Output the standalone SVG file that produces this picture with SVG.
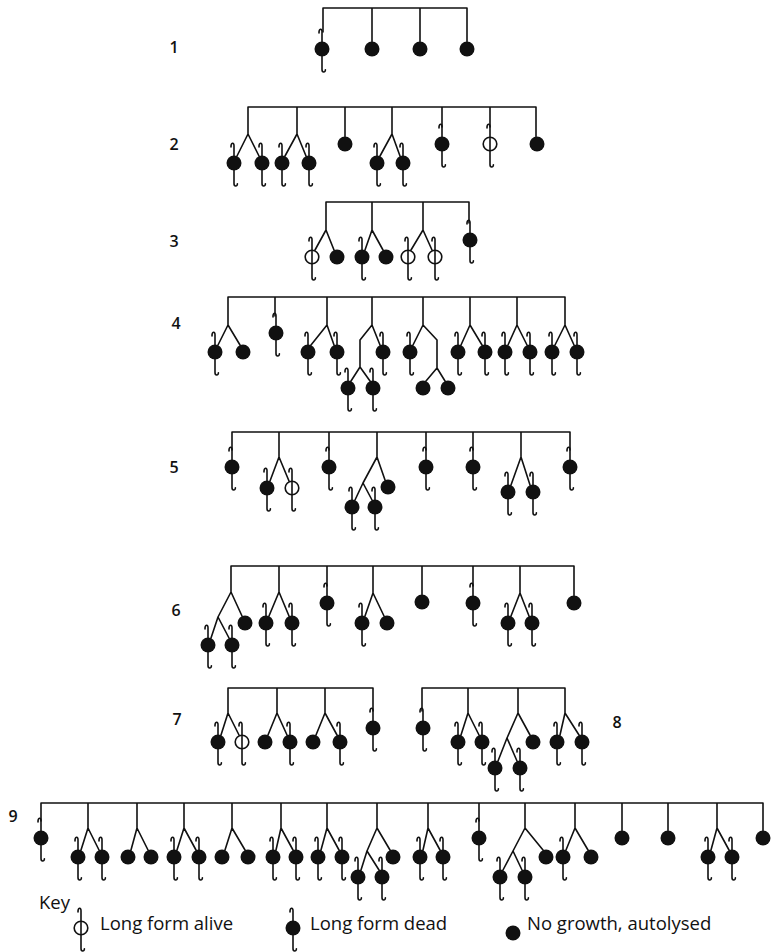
<svg xmlns="http://www.w3.org/2000/svg" xmlns:xlink="http://www.w3.org/1999/xlink" width="772" height="952" viewBox="0 0 772 952">
<style>
.c{fill:none;stroke:#111;stroke-width:1.6;stroke-linecap:round;stroke-linejoin:round}
.lab{font-family:"Open Sans","Liberation Sans",sans-serif;font-weight:600;font-size:16px;fill:#111;text-anchor:middle}
.key{font-family:"Open Sans","Liberation Sans",sans-serif;font-size:18.5px;fill:#111}
</style>
<defs>
<g id="N"><circle r="7.5" fill="#111"/></g>
<g id="D"><circle r="7.5" fill="#111"/><path class="c" d="M-3,-16 C-3.2,-20.5 0.3,-21 0,-17 L0,-7 M0,7 L0,20.5 C0,23.8 3.4,23.8 3.4,20.8"/></g>
<g id="A"><circle r="6.8" fill="#fff" stroke="#111" stroke-width="1.6"/><path class="c" d="M-3,-16 C-3.2,-20.5 0.3,-21 0,-17 L0,20.5 C0,23.8 3.4,23.8 3.4,20.8"/></g>
</defs>
<rect width="772" height="952" fill="#fff"/>
<g id="labels">
<text class="lab" x="174" y="53">1</text>
<text class="lab" x="174" y="150">2</text>
<text class="lab" x="174" y="247">3</text>
<text class="lab" x="176" y="329">4</text>
<text class="lab" x="174" y="473">5</text>
<text class="lab" x="176" y="616">6</text>
<text class="lab" x="177" y="725">7</text>
<text class="lab" x="617" y="728">8</text>
<text class="lab" x="13" y="822">9</text>
</g>
<g id="connectors" class="c">
<!-- row 1 -->
<path d="M323,8 H467 M323,8 V32 M372,8 V41.5 M420,8 V41.5 M467,8 V41.5"/>
<!-- row 2 -->
<path d="M248,107 H536 M248,107 V134 L237,156 M248,134 L259,156 M297,107 V134 L285,156 M297,134 L306,156 M345,107 V136.5 M392,107 V134 L380,156 M392,134 L400,156 M442,107 V127 M490,107 V127 M536,107 V136.5"/>
<!-- row 3 -->
<path d="M326,202 H469 M326,202 V230 L315,250 M326,230 L334,250 M372,202 V230 L365,250 M372,230 L383,250 M423,202 V230 L411,250 M423,230 L432,250 M469,202 V223"/>
<!-- row 4 -->
<path d="M228,297 H565 M228,297 V325 L218,345 M228,325 L240,345 M275,297 V316 M327,297 V325 L311,345 M327,325 L334,345 M372,297 V325 L360,340 V367 L351,381 M360,367 L370,381 M372,325 L380,345 M423,297 V325 L413,345 M423,325 L437,340 V368 L426,381 M437,368 L445,381 M470,297 V325 L461,345 M470,325 L482,345 M517,297 V325 L508,345 M517,325 L527,345 M565,297 V325 L555,345 M565,325 L574,345"/>
<!-- row 5 -->
<path d="M232,432 H570 M232,432 V450 M279,432 V457 L270,481 M279,457 L289,481 M329,432 V450 M377,432 V457 L363,483 L355,500 M363,483 L372,500 M377,457 L385,480 M426,432 V450 M473,432 V450 M521,432 V457 L511,485 M521,457 L530,485 M570,432 V450"/>
<!-- row 6 -->
<path d="M231,566 H574 M231,566 V592 L218,617 L211,638 M218,617 L229,638 M231,592 L242,616 M279,566 V592 L269,616 M279,592 L289,616 M327,566 V586 M373,566 V593 L365,616 M373,593 L384,616 M422,566 V594.5 M473,566 V586 M520,566 V593 L511,616 M520,593 L529,616 M574,566 V595.5"/>
<!-- row 7 -->
<path d="M228,688 H373 M228,688 V713 L221,735 M228,713 L239,735 M277,688 V713 L268,735 M277,713 L287,735 M325,688 V713 L316,735 M325,713 L337,735 M373,688 V711"/>
<!-- row 8 -->
<path d="M422,688 H565 M422,688 V711 M468,688 V713 L461,735 M468,713 L479,735 M518,688 V713 L507,738 L498,761 M507,738 L517,761 M518,713 L530,735 M565,688 V713 L560,735 M565,713 L579,735"/>
<!-- row 9 -->
<path d="M41,803 H763 M41,803 V821 M88,803 V828 L81,850 M88,828 L99,850 M137,803 V828 L131,850 M137,828 L148,850 M184,803 V828 L177,850 M184,828 L196,850 M232,803 V828 L225,850 M232,828 L245,850 M281,803 V828 L276,850 M281,828 L293,850 M327,803 V828 L321,850 M327,828 L339,850 M377,803 V828 L367,851 L361,870 M367,851 L379,870 M377,828 L390,850 M428,803 V828 L423,850 M428,828 L440,850 M479,803 V821 M525,803 V828 L513,851 L503,870 M513,851 L522,870 M525,828 L543,850 M575,803 V828 L566,850 M575,828 L588,850 M622,803 V830.5 M668,803 V830.5 M717,803 V828 L711,850 M717,828 L729,850 M763,803 V830.5"/>
</g>
<g id="r1">
<use id="n1a" href="#D" x="322" y="49"/>
<use id="n1b" href="#N" x="372" y="49"/>
<use id="n1c" href="#N" x="420" y="49"/>
<use id="n1d" href="#N" x="467" y="49"/>
</g>
<g id="r2">
<use id="n2a" href="#D" x="234" y="163"/>
<use id="n2b" href="#D" x="262" y="163"/>
<use id="n2c" href="#D" x="282" y="163"/>
<use id="n2d" href="#D" x="309" y="163"/>
<use id="n2e" href="#N" x="345" y="144"/>
<use id="n2f" href="#D" x="377" y="163"/>
<use id="n2g" href="#D" x="403" y="163"/>
<use id="n2h" href="#D" x="442" y="144"/>
<use id="n2i" href="#A" x="490" y="144"/>
<use id="n2j" href="#N" x="537" y="144"/>
</g>
<g id="r3">
<use id="n3a" href="#A" x="312" y="257"/>
<use id="n3b" href="#N" x="337" y="257"/>
<use id="n3c" href="#D" x="362" y="257"/>
<use id="n3d" href="#N" x="386" y="257"/>
<use id="n3e" href="#A" x="408" y="257"/>
<use id="n3f" href="#A" x="435" y="257"/>
<use id="n3g" href="#D" x="470" y="240"/>
</g>
<g id="r4">
<use id="n4a" href="#D" x="215" y="352"/>
<use id="n4b" href="#N" x="243" y="352"/>
<use id="n4c" href="#D" x="276" y="333"/>
<use id="n4d" href="#D" x="308" y="352"/>
<use id="n4e" href="#D" x="337" y="352"/>
<use id="n4f" href="#D" x="348" y="388"/>
<use id="n4g" href="#D" x="373" y="388"/>
<use id="n4h" href="#D" x="383" y="352"/>
<use id="n4i" href="#D" x="410" y="352"/>
<use id="n4j" href="#N" x="423" y="388"/>
<use id="n4k" href="#N" x="448" y="388"/>
<use id="n4l" href="#D" x="458" y="352"/>
<use id="n4m" href="#D" x="485" y="352"/>
<use id="n4n" href="#D" x="505" y="352"/>
<use id="n4o" href="#D" x="530" y="352"/>
<use id="n4p" href="#D" x="552" y="352"/>
<use id="n4q" href="#D" x="577" y="352"/>
</g>
<g id="r5">
<use id="n5a" href="#D" x="232" y="467"/>
<use id="n5b" href="#D" x="267" y="488"/>
<use id="n5c" href="#A" x="292" y="488"/>
<use id="n5d" href="#D" x="329" y="467"/>
<use id="n5e" href="#D" x="352" y="507"/>
<use id="n5f" href="#D" x="375" y="507"/>
<use id="n5g" href="#N" x="388" y="487"/>
<use id="n5h" href="#D" x="426" y="467"/>
<use id="n5i" href="#D" x="473" y="467"/>
<use id="n5j" href="#D" x="508" y="492"/>
<use id="n5k" href="#D" x="533" y="492"/>
<use id="n5l" href="#D" x="570" y="467"/>
</g>
<g id="r6">
<use id="n6a" href="#D" x="208" y="645"/>
<use id="n6b" href="#D" x="232" y="645"/>
<use id="n6c" href="#N" x="245" y="623"/>
<use id="n6d" href="#D" x="266" y="623"/>
<use id="n6e" href="#D" x="292" y="623"/>
<use id="n6f" href="#D" x="327" y="603"/>
<use id="n6g" href="#D" x="362" y="623"/>
<use id="n6h" href="#N" x="387" y="623"/>
<use id="n6i" href="#N" x="422" y="602"/>
<use id="n6j" href="#D" x="473" y="603"/>
<use id="n6k" href="#D" x="508" y="623"/>
<use id="n6l" href="#D" x="532" y="623"/>
<use id="n6m" href="#N" x="574" y="603"/>
</g>
<g id="r7">
<use id="n7a" href="#D" x="218" y="742"/>
<use id="n7b" href="#A" x="242" y="742"/>
<use id="n7c" href="#N" x="265" y="742"/>
<use id="n7d" href="#D" x="290" y="742"/>
<use id="n7e" href="#N" x="313" y="742"/>
<use id="n7f" href="#D" x="340" y="742"/>
<use id="n7g" href="#D" x="373" y="728"/>
</g>
<g id="r8">
<use id="n8a" href="#D" x="423" y="728"/>
<use id="n8b" href="#D" x="458" y="742"/>
<use id="n8c" href="#D" x="482" y="742"/>
<use id="n8d" href="#D" x="495" y="768"/>
<use id="n8e" href="#D" x="520" y="768"/>
<use id="n8f" href="#N" x="533" y="742"/>
<use id="n8g" href="#D" x="557" y="742"/>
<use id="n8h" href="#D" x="582" y="742"/>
</g>
<g id="r9">
<use id="n9a" href="#D" x="41" y="838"/>
<use id="n9b" href="#D" x="78" y="857"/>
<use id="n9c" href="#D" x="102" y="857"/>
<use id="n9d" href="#N" x="128" y="857"/>
<use id="n9e" href="#N" x="151" y="857"/>
<use id="n9f" href="#D" x="174" y="857"/>
<use id="n9g" href="#D" x="199" y="857"/>
<use id="n9h" href="#N" x="222" y="857"/>
<use id="n9i" href="#N" x="248" y="857"/>
<use id="n9j" href="#D" x="273" y="857"/>
<use id="n9k" href="#D" x="296" y="857"/>
<use id="n9l" href="#D" x="318" y="857"/>
<use id="n9m" href="#D" x="342" y="857"/>
<use id="n9n" href="#D" x="358" y="877"/>
<use id="n9o" href="#D" x="382" y="877"/>
<use id="n9p" href="#N" x="393" y="857"/>
<use id="n9q" href="#D" x="420" y="857"/>
<use id="n9r" href="#D" x="443" y="857"/>
<use id="n9s" href="#D" x="479" y="838"/>
<use id="n9t" href="#D" x="500" y="877"/>
<use id="n9u" href="#D" x="525" y="877"/>
<use id="n9v" href="#N" x="546" y="857"/>
<use id="n9w" href="#D" x="563" y="857"/>
<use id="n9x" href="#N" x="591" y="857"/>
<use id="n9y" href="#N" x="622" y="838"/>
<use id="n9z" href="#N" x="668" y="838"/>
<use id="n9aa" href="#D" x="708" y="857"/>
<use id="n9ab" href="#D" x="732" y="857"/>
<use id="n9ac" href="#N" x="763" y="838"/>
</g>
<g id="key">
<text class="key" x="39" y="909">Key</text>
<use id="keyA" href="#A" x="81" y="928"/>
<text class="key" x="100" y="930">Long form alive</text>
<use id="keyD" href="#D" x="293" y="928"/>
<text class="key" x="310" y="930">Long form dead</text>
<use id="keyN" href="#N" x="513" y="933"/>
<text class="key" x="527" y="930">No growth, autolysed</text>
</g>
</svg>
